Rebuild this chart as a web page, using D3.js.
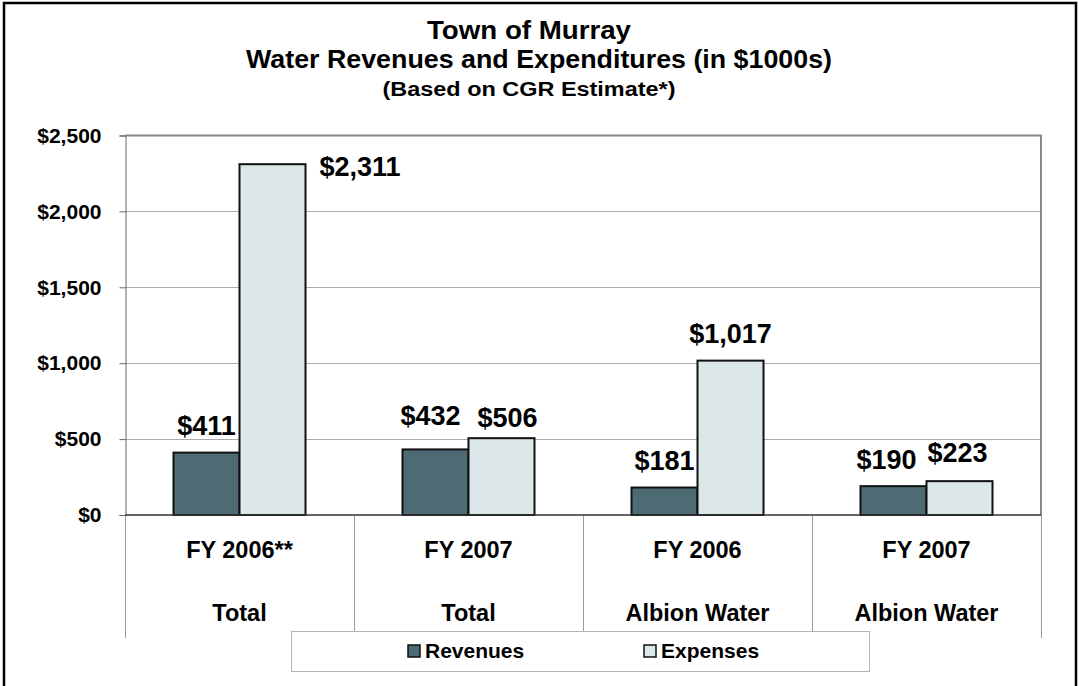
<!DOCTYPE html>
<html>
<head>
<meta charset="utf-8">
<script src="https://cdn.jsdelivr.net/npm/d3@7"></script>
<style>
  html, body { margin: 0; padding: 0; background: #fff; }
  svg { display: block; font-family: "Liberation Sans", Arial, sans-serif; font-weight: bold; }
</style>
</head>
<body>
<svg id="chart" width="1079" height="686"></svg>
<script>
// ---- data ----
const categoriesTop = ["FY 2006**", "FY 2007", "FY 2006", "FY 2007"];
const categoriesBottom = ["Total", "Total", "Albion Water", "Albion Water"];
const seriesNames = ["Revenues", "Expenses"];
const revenues = [411, 432, 181, 190];
const expenses = [2311, 506, 1017, 223];
const yTicks = [0, 500, 1000, 1500, 2000, 2500];
const titleLines = ["Town of Murray", "Water Revenues and Expenditures (in $1000s)"];
const subtitle = "(Based on CGR Estimate*)";

// ---- layout / style ----
const colors = { Revenues: "#4e6b74", Expenses: "#dbe7e8" };
const plot = { left: 125, right: 1041, top: 135.5, bottom: 515 };
// label nudges (series index, category index) -> [dx, dy]
const nudges = { "0-1": [-5, -7], "1-1": [6, 6], "0-3": [-7, 0], "1-3": [-2, -2] };

const svg = d3.select("#chart");

// outer frame
svg.append("rect").attr("x", 4).attr("y", 3).attr("width", 1072).attr("height", 700)
  .attr("fill", "none").attr("stroke", "#000").attr("stroke-width", 2.5);

// titles
const tsel = svg.append("g").attr("text-anchor", "middle").attr("fill", "#000");
tsel.append("text").attr("x", 529).attr("y", 39).attr("font-size", 25)
  .attr("textLength", 204).attr("lengthAdjust", "spacingAndGlyphs").text(titleLines[0]);
tsel.append("text").attr("x", 539).attr("y", 68).attr("font-size", 25)
  .attr("textLength", 586).attr("lengthAdjust", "spacingAndGlyphs").text(titleLines[1]);
tsel.append("text").attr("x", 529).attr("y", 96).attr("font-size", 20)
  .attr("textLength", 293).attr("lengthAdjust", "spacingAndGlyphs").text(subtitle);

// scales
const x0 = d3.scaleBand().domain(d3.range(categoriesTop.length))
  .range([plot.left, plot.right]).paddingInner(0).paddingOuter(0);
const groupW = 132;
const x1 = d3.scaleBand().domain(seriesNames).range([0, groupW]).padding(0);
const y = d3.scaleLinear().domain([0, 2500]).range([plot.bottom, plot.top]);

// gridlines
svg.append("g").selectAll("line").data(yTicks.filter(t => t > 0 && t < 2500)).join("line")
  .attr("x1", plot.left).attr("x2", plot.right)
  .attr("y1", d => Math.round(y(d)) + 0.5).attr("y2", d => Math.round(y(d)) + 0.5)
  .attr("stroke", "#ababab").attr("stroke-width", 1);

// plot border top / right
svg.append("path")
  .attr("d", `M${plot.left},${y(2500)}H${plot.right}V${plot.bottom}`)
  .attr("fill", "none").attr("stroke", "#8a8a8a").attr("stroke-width", 2);

// y axis
const yAxis = d3.axisLeft(y).tickValues(yTicks).tickSize(6).tickPadding(18)
  .tickFormat(d => "$" + d3.format(",")(d));
const yg = svg.append("g").attr("transform", `translate(${plot.left + 0.5},0)`).call(yAxis);
yg.select(".domain").attr("stroke", "#666").attr("stroke-width", 1);
yg.selectAll(".tick line").attr("stroke", "#666");
yg.selectAll(".tick text").attr("font-size", 21).attr("font-weight", "bold")
  .attr("fill", "#000").attr("font-family", "Liberation Sans, Arial, sans-serif");

// category separators (below axis)
const bounds = d3.range(categoriesTop.length + 1).map(i =>
  i < categoriesTop.length ? x0(i) : x0(i - 1) + x0.bandwidth());
svg.append("g").selectAll("line").data(bounds).join("line")
  .attr("x1", d => Math.round(d) + 0.5).attr("x2", d => Math.round(d) + 0.5)
  .attr("y1", plot.bottom).attr("y2", 638)
  .attr("stroke", "#9a9a9a").attr("stroke-width", 1);

// bars
const data = categoriesTop.map((c, i) => ({ i, vals: [revenues[i], expenses[i]] }));
const groups = svg.append("g").selectAll("g").data(data).join("g")
  .attr("transform", d => `translate(${x0(d.i) + (x0.bandwidth() - groupW) / 2},0)`);
groups.selectAll("rect").data(d => d.vals.map((v, s) => ({ v, s, i: d.i }))).join("rect")
  .attr("x", d => x1(seriesNames[d.s]))
  .attr("y", d => y(d.v))
  .attr("width", x1.bandwidth())
  .attr("height", d => y(0) - y(d.v))
  .attr("fill", d => colors[seriesNames[d.s]])
  .attr("stroke", "#111").attr("stroke-width", 2);

// zero line
svg.append("line").attr("x1", plot.left).attr("x2", plot.right)
  .attr("y1", plot.bottom).attr("y2", plot.bottom)
  .attr("stroke", "#333").attr("stroke-width", 1.5);

// data labels
groups.selectAll("text").data(d => d.vals.map((v, s) => ({ v, s, i: d.i }))).join("text")
  .attr("font-size", 27).attr("fill", "#000")
  .attr("text-anchor", d => (d.v > 2300 ? "start" : "middle"))
  .attr("x", d => {
    const n = nudges[d.s + "-" + d.i] || [0, 0];
    if (d.v > 2300) return x1(seriesNames[d.s]) + x1.bandwidth() + 14;
    return x1(seriesNames[d.s]) + x1.bandwidth() / 2 + n[0];
  })
  .attr("y", d => {
    const n = nudges[d.s + "-" + d.i] || [0, 0];
    if (d.v > 2300) return y(d.v) + 11.5;
    return y(d.v) - 17.5 + n[1];
  })
  .text(d => "$" + d3.format(",")(d.v));

// category labels
const cl = svg.append("g").attr("text-anchor", "middle").attr("font-size", 23.5).attr("fill", "#000");
cl.selectAll("text.top").data(categoriesTop).join("text").attr("class", "top")
  .attr("x", (d, i) => x0(i) + x0.bandwidth() / 2).attr("y", 558).text(d => d);
cl.selectAll("text.bot").data(categoriesBottom).join("text").attr("class", "bot")
  .attr("x", (d, i) => x0(i) + x0.bandwidth() / 2).attr("y", 621).text(d => d);

// legend
const lg = svg.append("g");
lg.append("rect").attr("x", 291.5).attr("y", 631.5).attr("width", 578).attr("height", 40)
  .attr("fill", "#fff").attr("stroke", "#b5b5b5").attr("stroke-width", 1);
const legendX = [408, 644];
seriesNames.forEach((s, k) => {
  lg.append("rect").attr("x", legendX[k]).attr("y", 645).attr("width", 12).attr("height", 12)
    .attr("fill", colors[s]).attr("stroke", "#111").attr("stroke-width", 1.5);
  lg.append("text").attr("x", legendX[k] + 17).attr("y", 658).attr("font-size", 21)
    .attr("fill", "#000").text(s);
});
</script>
</body>
</html>
